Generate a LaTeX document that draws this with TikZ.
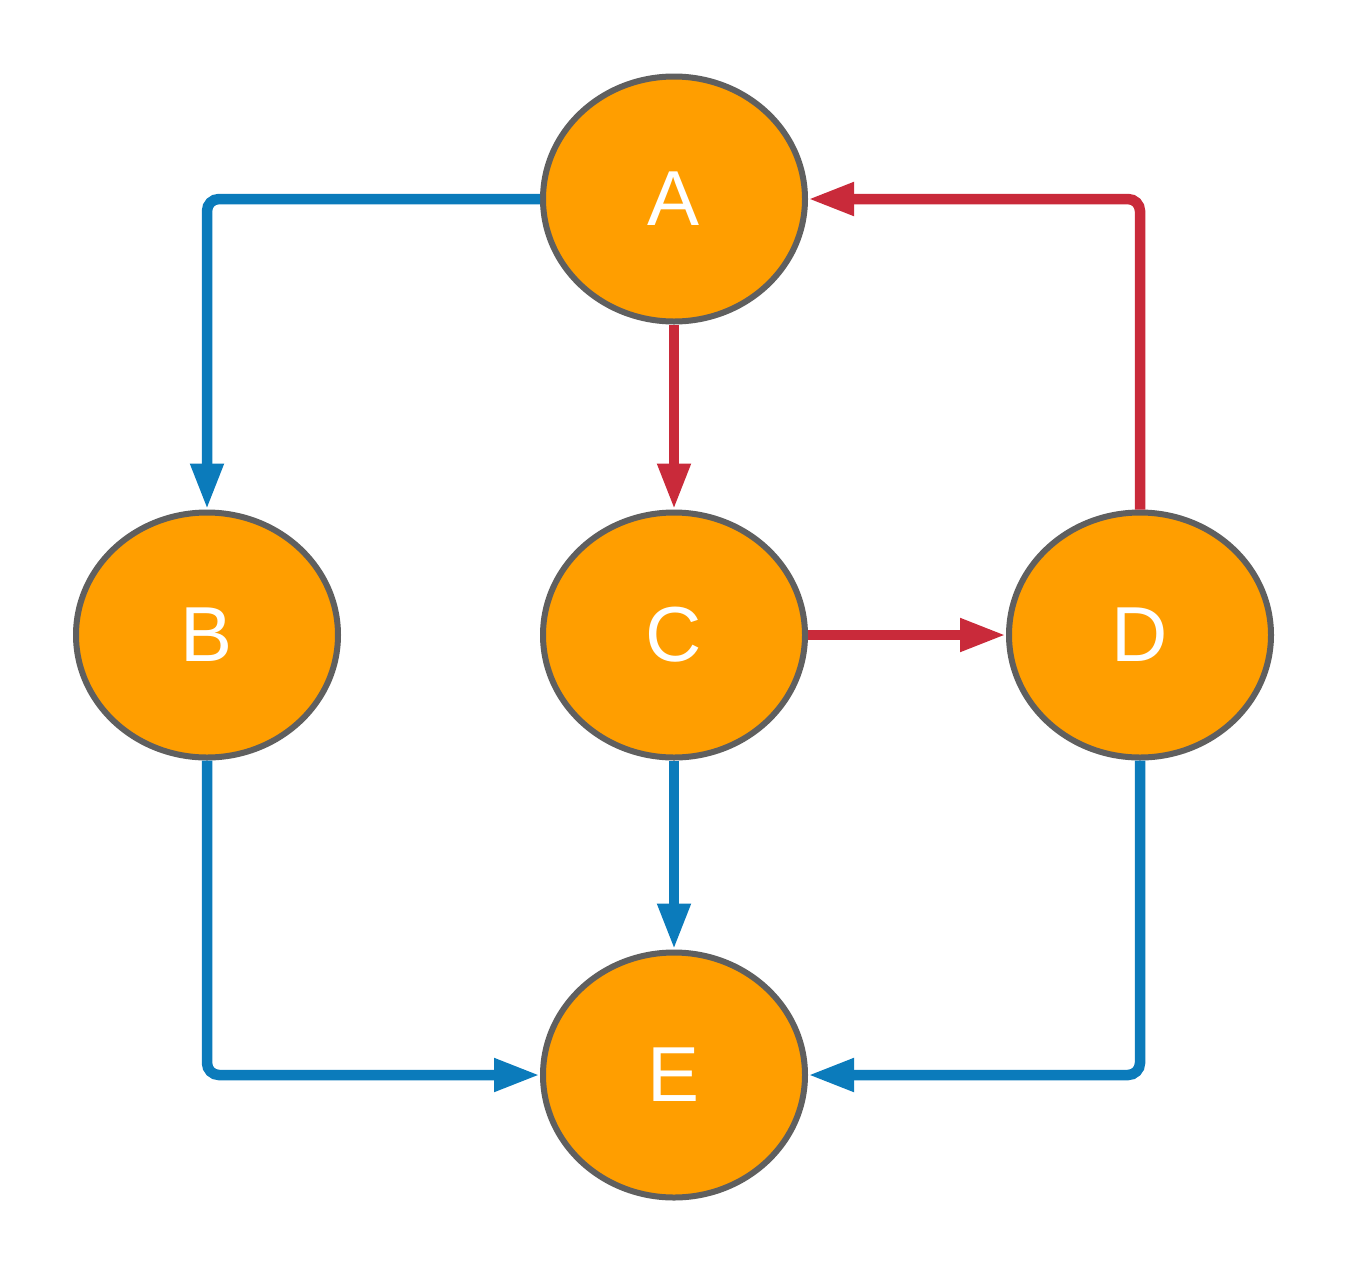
\documentclass[tikz,border=0pt]{standalone}
\usepackage{fontspec}
\setmainfont{Liberation Sans}
\usetikzlibrary{arrows.meta,shapes.geometric}
\definecolor{nodefill}{HTML}{FF9E00}
\definecolor{nodeline}{HTML}{5F5F5F}
\definecolor{blueedge}{HTML}{0B7BBB}
\definecolor{rededge}{HTML}{C92A3A}
\begin{document}
\begin{tikzpicture}[x=1pt,y=-1pt,
  vertex/.style={ellipse,draw=nodeline,fill=nodefill,line width=6pt,
    minimum width=262pt,minimum height=245pt,inner sep=0pt,
    text=white,font=\fontsize{78}{78}\selectfont},
  edge/.style={line width=10.5pt,rounded corners=12pt,
    -{Triangle[length=46pt,width=31pt]}},
  blueline/.style={edge,draw=blueedge},
  redline/.style={edge,draw=rededge}]
\useasboundingbox (0,0) rectangle (1350,1275);
\node[vertex] (A) at (674,199) {A};
\node[vertex] (B) at (207,635) {B};
\node[vertex] (C) at (674,635) {C};
\node[vertex] (D) at (1140,635) {D};
\node[vertex] (E) at (674,1075) {E};
\draw[blueline] (A.west) -| (B.north);
\draw[redline] (A.south) -- (C.north);
\draw[redline] (D.north) |- (A.east);
\draw[redline] (C.east) -- (D.west);
\draw[blueline] (B.south) |- (E.west);
\draw[blueline] (C.south) -- (E.north);
\draw[blueline] (D.south) |- (E.east);
\end{tikzpicture}
\end{document}
